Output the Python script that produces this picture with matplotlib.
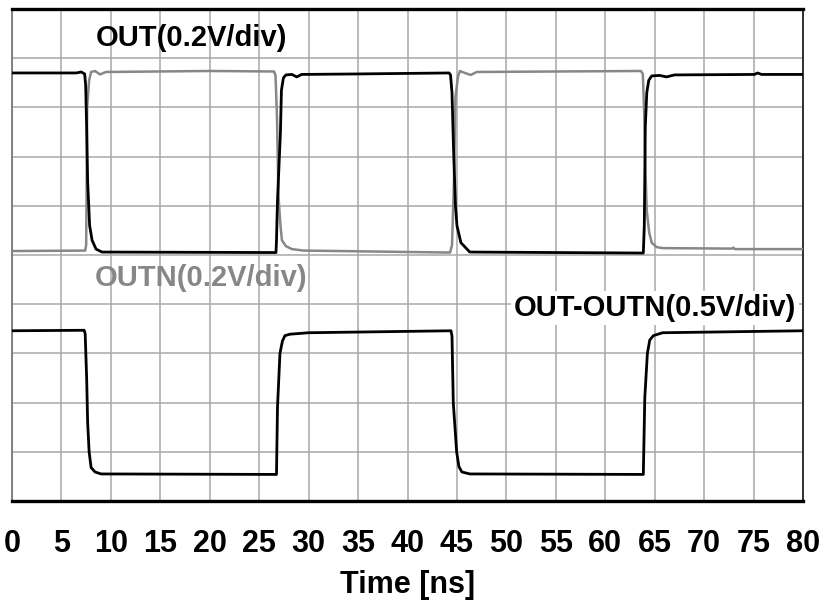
#!/usr/bin/env python3
"""
Differential output waveforms: OUT, OUTN and OUT-OUTN on a scope-style grid.
"""

import matplotlib.pyplot as plt

# --- Traces (time in ns, level in screen divisions, 10 div full height)
out_t = [0, 6.5, 7.0, 7.35, 7.45, 7.55, 7.65, 7.85, 8.1, 8.5, 9.1, 26.7,
         26.75, 26.85, 27.15, 27.25, 27.45, 27.7, 28.3, 28.8, 29.3, 35, 44.2,
         44.35, 44.5, 44.65, 44.85, 45.0, 45.4, 46.3, 63.85, 63.95, 64.05,
         64.2, 64.4, 64.7, 65.5, 66.2, 67, 75.1, 75.4, 75.8, 80]
out_v = [8.70, 8.70, 8.72, 8.68, 8.45, 7.6, 6.5, 5.6, 5.3, 5.12, 5.06, 5.05,
         5.3, 6.1, 7.5, 8.35, 8.60, 8.66, 8.67, 8.62, 8.67, 8.68, 8.70,
         8.66, 8.3, 7.2, 6.0, 5.6, 5.25, 5.06, 5.04, 5.6, 7.6,
         8.3, 8.55, 8.64, 8.65, 8.62, 8.66, 8.67, 8.70, 8.67, 8.67]

outn_t = [0, 7.4, 7.5, 7.55, 7.6, 7.8, 8.0, 8.4, 8.9, 9.5, 20, 26.5, 26.65,
          26.8, 26.95, 27.15, 27.3, 27.7, 28.3, 29.5, 44.3, 44.5, 44.7, 44.85,
          45.1, 45.3, 45.8, 46.4, 47.0, 63.6, 63.8, 63.95, 64.05, 64.2, 64.45,
          64.7, 65.2, 65.8, 72.8, 72.95, 73.1, 80]
outn_v = [5.08, 5.09, 5.2, 6.5, 8.0, 8.55, 8.72, 8.74, 8.67, 8.72, 8.74, 8.73,
          8.65, 7.8, 6.2, 5.6, 5.3, 5.18, 5.12, 5.09, 5.05, 5.2, 6.5, 8.2,
          8.62, 8.74, 8.70, 8.66, 8.72, 8.74, 8.68, 7.8, 6.8, 5.9, 5.45,
          5.25, 5.16, 5.14, 5.13, 5.15, 5.12, 5.12]

diff_t = [0, 7.3, 7.4, 7.55, 7.65, 7.8, 8.0, 8.4, 9.0, 26.75, 26.85, 27.1,
          27.35, 27.6, 28.1, 30, 44.4, 44.5, 44.63, 44.97, 45.2, 45.5, 46.3,
          63.85, 64.0, 64.26, 64.5, 64.86, 65.8, 80]
diff_v = [3.46, 3.47, 3.40, 2.5, 1.6, 1.0, 0.68, 0.59, 0.55, 0.54, 1.9, 3.0,
          3.25, 3.36, 3.39, 3.42, 3.46, 3.35, 2.0, 1.0, 0.7, 0.59, 0.55,
          0.54, 2.1, 3.0, 3.27, 3.36, 3.42, 3.46]

x_ticks = list(range(0, 81, 5))
y_divs = list(range(0, 11))

plt.rcParams['font.family'] = ['Liberation Sans', 'DejaVu Sans']
plt.rcParams['font.weight'] = 'bold'

fig = plt.figure(figsize=(8.19, 6.03), dpi=100)
ax = fig.add_axes([12 / 819, 102 / 603, 791 / 819, 492 / 603])

# --- Traces
ax.plot(outn_t, outn_v, color='#878787', lw=1.8, zorder=3)
ax.plot(out_t, out_v, color='black', lw=2.0, zorder=4)
ax.plot(diff_t, diff_v, color='black', lw=2.0, zorder=4)

# --- Channel labels
ax.text(18.2, 9.42, 'OUT(0.2V/div)', fontsize=21, fontweight='bold',
        ha='center', va='center', zorder=5)
ax.text(19.1, 4.53, 'OUTN(0.2V/div)', fontsize=21, fontweight='bold',
        color='#878787', ha='center', va='center', zorder=5)
ax.text(65.0, 3.92, 'OUT-OUTN(0.5V/div)', fontsize=21, fontweight='bold',
        ha='center', va='center', zorder=5,
        bbox=dict(facecolor='white', edgecolor='none', pad=2))

# --- Scope grid
ax.set_xlim(0, 80)
ax.set_ylim(0, 10)
ax.set_xticks(x_ticks)
ax.set_yticks(y_divs)
ax.set_yticklabels([])
ax.grid(True, color='#a8a8a8', lw=1.1)
ax.set_axisbelow(True)
ax.tick_params(axis='both', length=0)
ax.tick_params(axis='x', labelsize=22, pad=20)

ax.spines['top'].set_linewidth(2.4)
ax.spines['bottom'].set_linewidth(2.4)
ax.spines['left'].set_linewidth(1.2)
ax.spines['left'].set_color('#707070')
ax.spines['right'].set_linewidth(1.4)
ax.spines['right'].set_color('#303030')

ax.set_xlabel('Time [ns]', fontsize=22, fontweight='bold', labelpad=8)

fig.savefig('out.png', dpi=100)
